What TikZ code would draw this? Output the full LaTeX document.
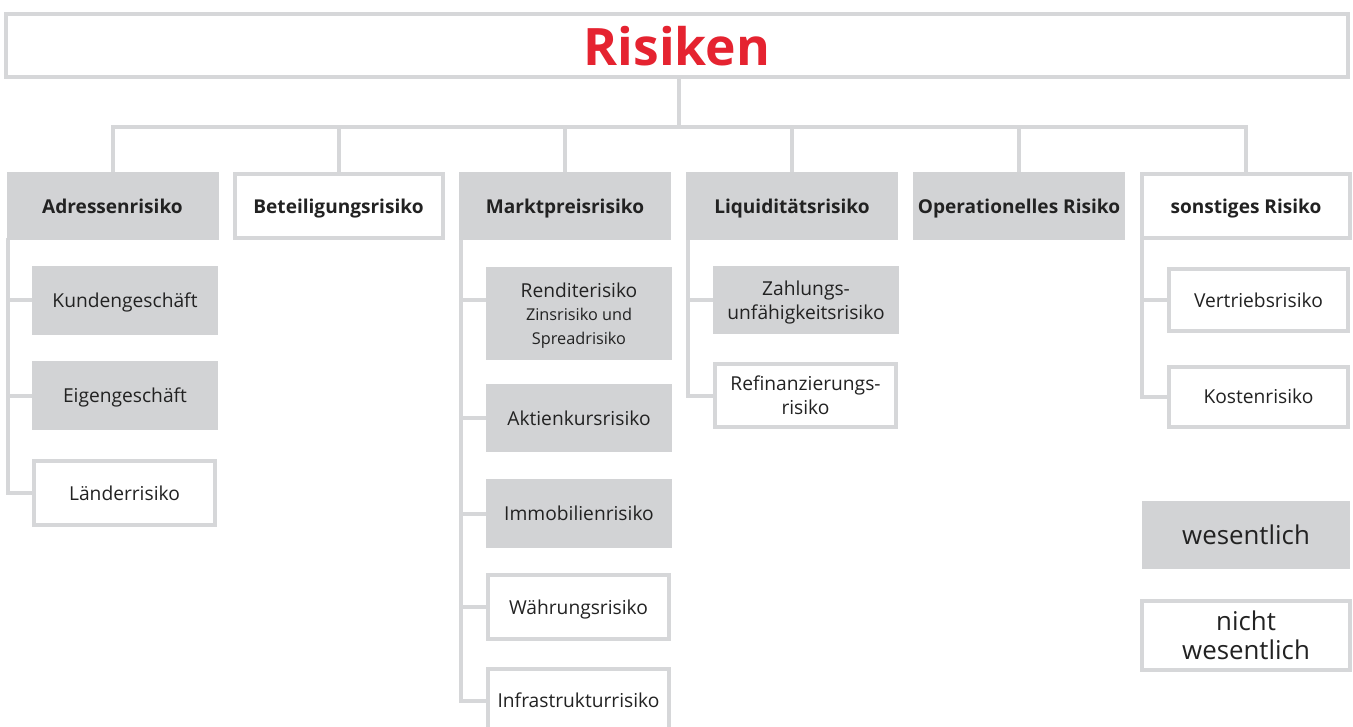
\documentclass[tikz,border=0pt]{standalone}
\usepackage{fontspec}
\setmainfont{Open Sans}
\usetikzlibrary{positioning,calc,backgrounds}
\definecolor{riskred}{HTML}{E52330}
\definecolor{boxgray}{HTML}{D2D3D5}
\definecolor{linegray}{HTML}{D6D7D9}
\definecolor{ink}{HTML}{222222}
\newcommand\smalltxt{\fontsize{12.2}{15}\selectfont}

\begin{document}
\begin{tikzpicture}[
    x=0.75pt, y=-0.75pt,
    font=\fontsize{14.4}{18}\selectfont, text=ink,
    link/.style={linegray, line width=3pt, line cap=rect},
    key/.style 2 args={fill=boxgray, inner sep=0pt, align=center, text depth=0pt,
                       minimum width=#1, minimum height=#2},
    minor/.style 2 args={draw=linegray, line width=3pt, fill=white,
                         inner sep=0pt, align=center, text depth=0pt,
                         minimum width=#1-3pt, minimum height=#2-3pt},
    head/.style={font=\fontsize{14.3}{18}\selectfont\bfseries},
    legend/.style={font=\fontsize{19.4}{22}\selectfont}
]
\useasboundingbox (0,0) rectangle (1353,727);

% title
\node[minor={1009.5pt}{50.25pt}, text=riskred,
      font=\fontsize{38.7}{44}\selectfont\bfseries] (risiken) at (677,45.5) {Risiken};

% main groups
\node[key={159pt}{51pt}, head] (adr) at (112.5,206) {Adressenrisiko};
\node[minor={159pt}{51pt}, head] (bet) at (338.5,206) {Beteiligungsrisiko};
\node[key={159pt}{51pt}, head] (mkt) at (565,206) {Marktpreisrisiko};
\node[key={159pt}{51pt}, head] (liq) at (792,206) {Liquiditätsrisiko};
\node[key={159pt}{51pt}, head] (ops) at (1019,206) {Operationelles Risiko};
\node[minor={159pt}{51pt}, head] (son) at (1246,206) {sonstiges Risiko};

% Adressenrisiko
\node[key={139.5pt}{51.5pt}] (kund) at (125,300.5) {Kundengeschäft};
\node[key={139.5pt}{51.5pt}] (eig) at (125,395.5) {Eigengeschäft};
\node[minor={139pt}{51pt}] (land) at (124.5,493) {Länderrisiko};

% Marktpreisrisiko
\node[key={139.5pt}{69.75pt}] (rend) at (579,313.5)
    {Renditerisiko\\[-0.5pt]{\smalltxt Zinsrisiko und}\\[-0.5pt]{\smalltxt Spreadrisiko}};
\node[key={139.5pt}{51pt}] (akt) at (579,418) {Aktienkursrisiko};
\node[key={139.5pt}{51.5pt}] (immo) at (579,513.5) {Immobilienrisiko};
\node[minor={139pt}{51pt}] (wahr) at (578.5,607) {Währungsrisiko};
\node[minor={139pt}{51pt}] (infra) at (578.5,700.5) {Infrastrukturrisiko};

% Liquiditaetsrisiko
\node[key={139.5pt}{51pt}] (zahl) at (806,300) {Zahlungs-\\unfähigkeitsrisiko};
\node[minor={139pt}{50.5pt}] (refi) at (805.5,395.5) {Refinanzierungs-\\risiko};

% sonstiges Risiko
\node[minor={137.5pt}{50pt}] (vert) at (1258.5,300) {Vertriebsrisiko};
\node[minor={137.5pt}{48pt}] (kost) at (1258.5,396.5) {Kostenrisiko};

% legend
\node[key={156pt}{51pt}, legend] (wes) at (1246,535) {wesentlich};
\node[minor={159pt}{54.75pt}, legend] (nwes) at (1246,635.5) {nicht\\wesentlich};

\begin{scope}[on background layer]
\coordinate (bus) at (679,127);
\coordinate (rendtap) at ([yshift=10.1pt]rend.west);
\draw[link] (bus |- risiken.south) -- (bus);
\draw[link] (adr.north |- bus) -- (son.north |- bus);
\foreach \h in {adr,bet,mkt,liq,ops,son}
    \draw[link] (\h.north |- bus) -- (\h.north);

\draw[link] ([xshift=1.5pt]adr.south west) |- (land.west);
\foreach \c in {kund,eig}
    \draw[link] ([xshift=1.5pt]adr.south west |- \c.west) -- (\c.west);

\draw[link] ([xshift=1.5pt]mkt.south west) |- (infra.west);
\foreach \c in {rendtap,akt.west,immo.west,wahr.west}
    \draw[link] ([xshift=1.5pt]mkt.south west |- \c) -- (\c);

\draw[link] ([xshift=1.5pt]liq.south west) |- (refi.west);
\draw[link] ([xshift=1.5pt]liq.south west |- zahl.west) -- (zahl.west);

\draw[link] ([xshift=1.5pt]son.south west) |- (kost.west);
\draw[link] ([xshift=1.5pt]son.south west |- vert.west) -- (vert.west);
\end{scope}
\end{tikzpicture}
\end{document}
